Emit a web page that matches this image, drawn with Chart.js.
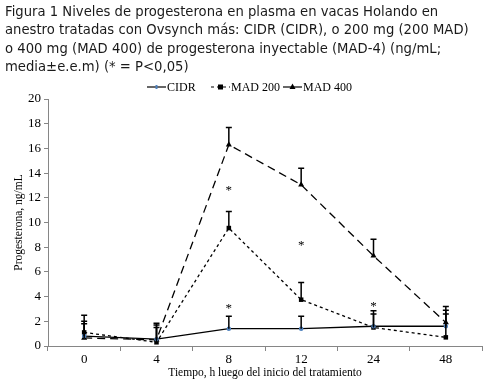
<!DOCTYPE html>
<html>
<head>
<meta charset="utf-8">
<script src="https://cdn.jsdelivr.net/npm/chart.js@4"></script>
<style>
  html, body { margin: 0; padding: 0; background: #fff; }
  #wrap { position: relative; width: 491px; height: 389px; overflow: hidden; }
  #title {
    position: absolute; left: 5px; top: 3px;
    font-family: "DejaVu Sans", Verdana, sans-serif; font-size: 13.2px; line-height: 18.4px;
    color: #1a1a1a; white-space: nowrap;
  }
  canvas { position: absolute; left: 0; top: 0; }
</style>
</head>
<body>
<div id="wrap">
  <canvas id="chart" width="491" height="389"></canvas>
  <div id="title">Figura 1 Niveles de progesterona en plasma en vacas Holando en<br>anestro tratadas con Ovsynch más: CIDR (CIDR), o 200 mg (200 MAD)<br>o 400 mg (MAD 400) de progesterona inyectable (MAD-4) (ng/mL;<br>media±e.e.m) (* = P&lt;0,05)</div>
</div>
<script>
const hours = ['0', '4', '8', '12', '24', '48'];

const cidr = [0.8, 0.55, 1.4, 1.4, 1.6, 1.6];
const cidrErr = [1.2, 1.3, 1.0, 1.0, 1.0, 1.3];

const mad200 = [1.1, 0.3, 9.55, 3.75, 1.5, 0.7];
const mad200Err = [1.4, 1.4, 1.35, 1.4, 1.35, 1.9];

const mad400 = [0.65, 0.5, 16.3, 13.05, 7.3, 1.9];
const mad400Err = [1.15, 1.0, 1.4, 1.35, 1.35, 1.3];

// significance marks: [category index, y value]
const stars = [[2, 12.8], [2, 3.3], [3, 8.4], [4, 3.4]];

const yTicks = [0, 2, 4, 6, 8, 10, 12, 14, 16, 18, 20];

const serif = "'Liberation Serif', 'Times New Roman', serif";

const errorBars = {
  id: 'errorBars',
  afterDatasetsDraw(chart) {
    const { ctx } = chart;
    const x = chart.scales.x, y = chart.scales.y;
    ctx.save();
    ctx.strokeStyle = '#000';
    ctx.lineWidth = 1.5;
    chart.data.datasets.forEach(ds => {
      ds.errors.forEach((e, i) => {
        const px = x.getPixelForValue(i);
        const y0 = y.getPixelForValue(ds.data[i]);
        const y1 = y.getPixelForValue(ds.data[i] + e);
        ctx.beginPath();
        ctx.moveTo(px, y0);
        ctx.lineTo(px, y1);
        ctx.moveTo(px - 3, y1);
        ctx.lineTo(px + 3, y1);
        ctx.stroke();
      });
    });
    ctx.fillStyle = '#000';
    ctx.font = '13px ' + serif;
    ctx.textAlign = 'center';
    ctx.textBaseline = 'middle';
    stars.forEach(([i, v]) => {
      ctx.fillText('*', x.getPixelForValue(i), y.getPixelForValue(v) + 3);
    });
    ctx.restore();
  }
};

const legendLine = {
  id: 'legendLine',
  afterDraw(chart) {
    const { ctx } = chart;
    const items = [
      { x: 147, label: 'CIDR', dash: [], marker: 'cidr' },
      { x: 211, label: 'MAD 200', dash: [3, 3], marker: 'rect' },
      { x: 283, label: 'MAD 400', dash: [], marker: 'tri' }
    ];
    const ly = 87;
    ctx.save();
    items.forEach(it => {
      ctx.strokeStyle = '#000';
      ctx.lineWidth = 1.2;
      ctx.setLineDash(it.dash);
      ctx.beginPath();
      ctx.moveTo(it.x, ly);
      ctx.lineTo(it.x + 19, ly);
      ctx.stroke();
      ctx.setLineDash([]);
      const cx = it.x + 9.5;
      if (it.marker === 'rect') {
        ctx.fillStyle = '#000';
        ctx.fillRect(cx - 2.5, ly - 2.5, 5, 5);
      } else if (it.marker === 'tri') {
        ctx.fillStyle = '#000';
        ctx.beginPath();
        ctx.moveTo(cx, ly - 3.5);
        ctx.lineTo(cx + 3, ly + 2);
        ctx.lineTo(cx - 3, ly + 2);
        ctx.closePath();
        ctx.fill();
      } else {
        ctx.fillStyle = '#4f81bd';
        ctx.fillRect(cx - 1, ly - 2, 2, 4);
      }
      ctx.fillStyle = '#000';
      ctx.font = '12px ' + serif;
      ctx.textAlign = 'left';
      ctx.textBaseline = 'middle';
      ctx.fillText(it.label, it.x + 20, ly + 1);
    });
    ctx.restore();
  }
};

new Chart(document.getElementById('chart'), {
  type: 'line',
  data: {
    labels: hours,
    datasets: [
      {
        label: 'CIDR',
        data: cidr,
        errors: cidrErr,
        borderColor: '#000',
        borderWidth: 1.3,
        pointStyle: 'circle',
        pointRadius: 1.6,
        pointBackgroundColor: '#4f81bd',
        pointBorderColor: '#4f81bd',
        tension: 0
      },
      {
        label: 'MAD 200',
        data: mad200,
        errors: mad200Err,
        borderColor: '#000',
        borderWidth: 1.3,
        borderDash: [3, 3],
        pointStyle: 'rect',
        pointRadius: 3.2,
        pointBackgroundColor: '#000',
        pointBorderColor: '#000',
        pointBorderWidth: 0,
        tension: 0
      },
      {
        label: 'MAD 400',
        data: mad400,
        errors: mad400Err,
        borderColor: '#000',
        borderWidth: 1.3,
        borderDash: [8, 5],
        pointStyle: 'triangle',
        pointRadius: 3.5,
        pointBackgroundColor: '#000',
        pointBorderColor: '#000',
        pointBorderWidth: 0,
        tension: 0
      }
    ]
  },
  options: {
    responsive: false,
    animation: false,
    layout: { padding: { top: 99, right: 9, left: 0, bottom: 0 } },
    plugins: {
      legend: { display: false },
      tooltip: { enabled: false }
    },
    scales: {
      x: {
        offset: true,
        grid: { display: true, offset: true, drawOnChartArea: false, tickLength: 5, color: '#868686' },
        border: { color: '#868686', width: 1 },
        ticks: { color: '#000', font: { family: serif, size: 13 }, padding: 1, maxRotation: 0 },
        title: { display: true, text: 'Tiempo, h luego del inicio del tratamiento', color: '#000', font: { family: serif, size: 11.5 }, padding: { top: 0, bottom: 9 } },
        afterFit(scale) { scale.height = 43; }
      },
      y: {
        min: 0,
        max: 20,
        afterBuildTicks(scale) { scale.ticks = yTicks.map(v => ({ value: v })); },
        grid: { display: true, drawOnChartArea: false, tickLength: 4, color: '#868686' },
        border: { color: '#868686', width: 1 },
        ticks: { color: '#000', font: { family: serif, size: 13 }, padding: 3 },
        title: { display: true, text: 'Progesterona, ng/mL', color: '#000', font: { family: serif, size: 11.5 }, padding: { top: 12, bottom: 0 } },
        afterFit(scale) { scale.width = 48; }
      }
    }
  },
  plugins: [errorBars, legendLine]
});
</script>
</body>
</html>
